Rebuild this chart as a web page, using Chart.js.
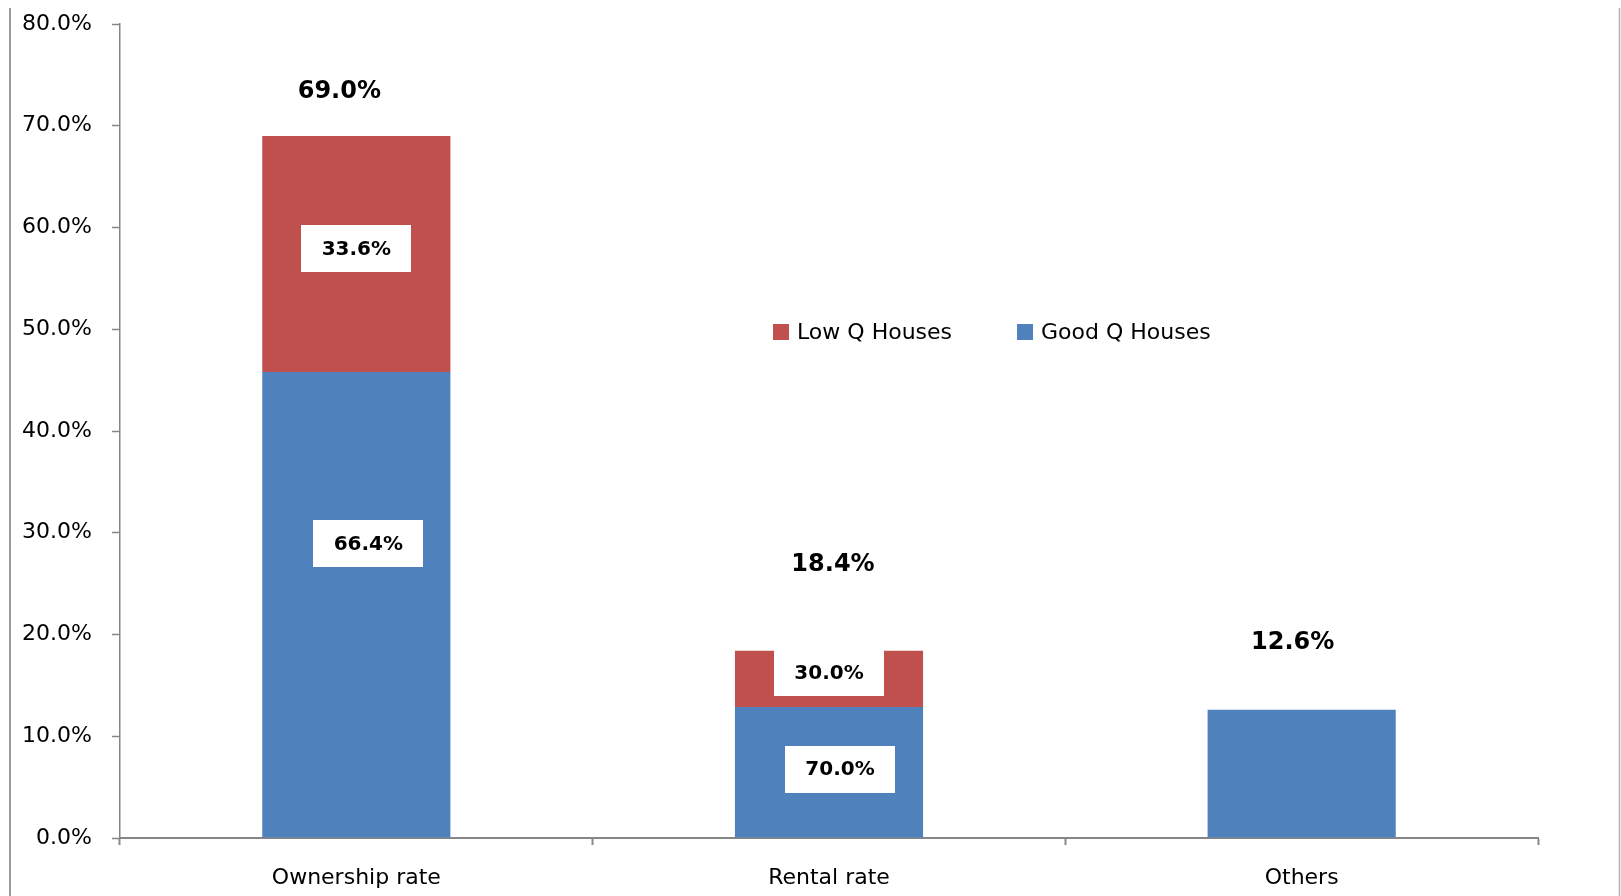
<!DOCTYPE html>
<html>
<head>
<meta charset="utf-8">
<script src="https://cdn.jsdelivr.net/npm/chart.js@4.4.1/dist/chart.umd.min.js"></script>
<style>
  html, body { margin: 0; padding: 0; background: #ffffff; }
  #wrap { width: 1621px; height: 896px; position: relative; }
</style>
</head>
<body>
<div id="wrap"><canvas id="c" width="1621" height="896"></canvas></div>
<script>
// ---- data ----
const categories = ['Ownership rate', 'Rental rate', 'Others'];
const goodQValues = [45.8, 12.88, 12.6];
const lowQValues = [23.2, 5.52, 0];
const totalValues = [69.0, 18.4, 12.6];
const yTickMax = 80;
const yTickStep = 10;
const seriesNames = ['Good Q Houses', 'Low Q Houses'];

const BLUE = '#4F81BD';
const RED = '#C0504D';
const AXIS = '#868686';
const FONT = "'DejaVu Sans', Verdana, sans-serif";

// Border lines of the chart frame
const framePlugin = {
  id: 'frame',
  beforeDraw(chart) {
    const ctx = chart.ctx;
    ctx.save();
    ctx.fillStyle = '#ffffff';
    ctx.fillRect(0, 0, chart.width, chart.height);
    ctx.strokeStyle = '#9a9a9a';
    ctx.lineWidth = 2;
    ctx.beginPath();
    ctx.moveTo(10, 8); ctx.lineTo(10, chart.height);
    ctx.stroke();
    ctx.lineWidth = 1.5;
    ctx.strokeStyle = '#b0b0b0';
    ctx.beginPath();
    ctx.moveTo(1619.5, 8); ctx.lineTo(1619.5, chart.height);
    ctx.stroke();
    ctx.restore();
  }
};

// Data labels: share-of-total boxes inside segments, totals above bars
const labelPlugin = {
  id: 'stackLabels',
  afterDatasetsDraw(chart, args, opts) {
    const ctx = chart.ctx;
    const goodMeta = chart.getDatasetMeta(0);
    const lowMeta = chart.getDatasetMeta(1);
    ctx.save();
    ctx.textAlign = 'center';
    ctx.textBaseline = 'middle';
    categories.forEach((cat, i) => {
      const g = goodQValues[i], l = lowQValues[i], t = totalValues[i];
      if (g > 0 && l > 0) {
        const segs = [
          { el: lowMeta.data[i], val: l, off: opts.lowOffsets[i] },
          { el: goodMeta.data[i], val: g, off: opts.goodOffsets[i] }
        ];
        segs.forEach(s => {
          const cx = s.el.x + s.off[0];
          const cy = (s.el.y + s.el.base) / 2 + s.off[1];
          const txt = (s.val / (g + l) * 100).toFixed(1) + '%';
          ctx.font = 'bold 20px ' + FONT;
          const w = opts.boxW, h = opts.boxH;
          ctx.fillStyle = '#ffffff';
          ctx.fillRect(Math.round(cx - w / 2), Math.round(cy - h / 2), w, h);
          ctx.fillStyle = '#000000';
          ctx.fillText(txt, cx, cy + 1);
        });
      }
      const topEl = (l > 0 ? lowMeta.data[i] : goodMeta.data[i]);
      const off = opts.totalOffsets[i];
      ctx.font = 'bold 24px ' + FONT;
      ctx.fillStyle = '#000000';
      ctx.fillText(t.toFixed(1) + '%', topEl.x + off[0], topEl.y + off[1]);
    });
    ctx.restore();
  }
};

// Legend drawn inside the plot area, Low Q first
const legendPlugin = {
  id: 'innerLegend',
  afterDraw(chart, args, opts) {
    const ctx = chart.ctx;
    ctx.save();
    ctx.font = '22px ' + FONT;
    ctx.textBaseline = 'middle';
    ctx.textAlign = 'left';
    const order = [1, 0];
    order.forEach((dsIndex, k) => {
      const ds = chart.data.datasets[dsIndex];
      const x = opts.xs[k], y = opts.y;
      ctx.fillStyle = ds.backgroundColor;
      ctx.fillRect(x, y - 8, 16, 16);
      ctx.fillStyle = '#000000';
      ctx.fillText(ds.label, x + 24, y + 1);
    });
    ctx.restore();
  }
};

new Chart(document.getElementById('c'), {
  type: 'bar',
  data: {
    labels: categories,
    datasets: [
      { label: seriesNames[0], data: goodQValues, backgroundColor: BLUE, borderWidth: 0 },
      { label: seriesNames[1], data: lowQValues, backgroundColor: RED, borderWidth: 0 }
    ]
  },
  options: {
    responsive: false,
    animation: false,
    devicePixelRatio: 1,
    layout: { padding: { left: 0, right: 83, top: 24, bottom: 0 } },
    datasets: { bar: { barPercentage: 0.398, categoryPercentage: 1.0 } },
    scales: {
      x: {
        stacked: true,
        offset: true,
        grid: {
          display: true,
          drawOnChartArea: false,
          drawTicks: true,
          tickLength: 7,
          tickColor: AXIS,
          tickWidth: 2,
          offset: true
        },
        border: { display: true, color: AXIS, width: 2 },
        ticks: {
          color: '#000000',
          font: { family: FONT, size: 22 },
          padding: 20,
          maxRotation: 0
        },
        afterFit(scale) { scale.height = 58; }
      },
      y: {
        stacked: true,
        min: 0,
        max: yTickMax,
        grid: {
          display: true,
          drawOnChartArea: false,
          drawTicks: true,
          tickLength: 8,
          tickColor: AXIS,
          tickWidth: 1.5
        },
        border: { display: true, color: AXIS, width: 1.5 },
        ticks: {
          stepSize: yTickStep,
          color: '#000000',
          font: { family: FONT, size: 22 },
          padding: 20,
          callback: v => Number(v).toFixed(1) + '%'
        },
        afterFit(scale) {
          scale.width = 120;
          scale.paddingTop = 0;
          scale.paddingBottom = 0;
        }
      }
    },
    plugins: {
      legend: { display: false },
      tooltip: { enabled: false },
      stackLabels: {
        boxW: 110,
        boxH: 47,
        lowOffsets: [[0, -5], [0, -6], [0, 0]],
        goodOffsets: [[12, -61], [11, -3], [0, 0]],
        totalOffsets: [[-17, -44], [4, -86], [-9, -67]]
      },
      innerLegend: { xs: [773, 1017], y: 332 }
    }
  },
  plugins: [framePlugin, labelPlugin, legendPlugin]
});
</script>
</body>
</html>
